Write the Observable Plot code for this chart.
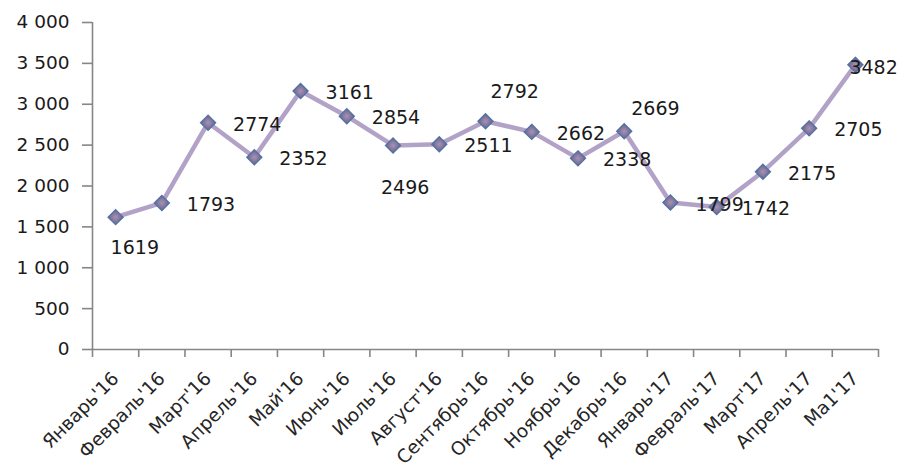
<!DOCTYPE html>
<html>
<head>
<meta charset="utf-8">
<script src="https://cdn.jsdelivr.net/npm/d3@7"></script>
<script src="https://cdn.jsdelivr.net/npm/@observablehq/plot@0.6"></script>
<style>
  html, body { margin: 0; padding: 0; background: #fff; }
  #chart { width: 900px; height: 469px; }
</style>
</head>
<body>
<div id="chart"></div>
<script>
// ---- data ----
const months = ["Январь'16","Февраль'16","Март'16","Апрель'16","Май'16","Июнь'16","Июль'16","Август'16","Сентябрь'16","Октябрь'16","Ноябрь'16","Декабрь'16","Январь'17","Февраль'17","Март'17","Апрель'17","Ма1'17"];
const values = [1619, 1793, 2774, 2352, 3161, 2854, 2496, 2511, 2792, 2662, 2338, 2669, 1799, 1742, 2175, 2705, 3482];
const labelPlacement = ["below","right","right","right","right","right","farBelow","right","top","right","right","topNear","right","right","right","right","on"];
const yTicks = [0, 500, 1000, 1500, 2000, 2500, 3000, 3500, 4000];

// ---- table ----
const data = months.map((m, i) => ({month: m, idx: i, pos: i + 0.5, value: values[i], place: labelPlacement[i]}));

const placeOffsets = {
  right:    {dx: 25, dy: 2},
  below:    {dx: -5, dy: 31},
  farBelow: {dx: -12, dy: 42},
  top:      {dx: 5, dy: -29},
  topNear:  {dx: 7, dy: -22},
  on:       {dx: -6, dy: 3}
};

const font = "Verdana, 'DejaVu Sans', sans-serif";
const fmt = d => d3.format(",")(d).replace(/,/g, " ");

const labelMarks = Object.entries(placeOffsets).map(([name, o]) =>
  Plot.text(data.filter(d => d.place === name), {
    x: "pos", y: "value", text: d => String(d.value),
    dx: o.dx, dy: o.dy, textAnchor: "start", lineAnchor: "middle",
    fill: "#1a1a1a", fontSize: 19
  })
);

const svg = Plot.plot({
  width: 900,
  height: 469,
  marginLeft: 92,
  marginRight: 22,
  marginTop: 22,
  marginBottom: 120,
  style: {fontFamily: font, background: "#fff", overflow: "visible"},
  x: {type: "linear", domain: [0, months.length], axis: null, label: null},
  y: {domain: [0, 4000], axis: null, label: null},
  marks: [
    // y axis
    Plot.axisY({ticks: yTicks, label: null, tickSize: 10, tickPadding: 13, tickFormat: fmt, stroke: "#868686", strokeWidth: 1.6, fill: "#1a1a1a", fontSize: 18.5}),
    Plot.ruleX([0], {y1: 0, y2: 4000, stroke: "#868686", strokeWidth: 1.6}),
    // x axis
    Plot.ruleY([0], {stroke: "#868686", strokeWidth: 1.6}),
    Plot.axisX({ticks: d3.range(months.length + 1), label: null, tickSize: 8, tickFormat: () => "", stroke: "#868686", strokeWidth: 1.6}),
    Plot.axisX({ticks: data.map(d => d.pos), label: null, tickSize: 0, tickPadding: 26, tickRotate: -45,
      tickFormat: p => months[Math.floor(p)], fill: "#262626", fontSize: 18.5}),
    // series
    Plot.line(data, {x: "pos", y: "value", stroke: "#b3a2c7", strokeWidth: 4.5, strokeLinejoin: "round"}),
    Plot.dot(data, {x: "pos", y: "value", symbol: "diamond2", r: 6.8, fill: "url(#mk)", stroke: "#4f73a6", strokeWidth: 1.3}),
    ...labelMarks
  ]
});

// marker gradient
const ns = "http://www.w3.org/2000/svg";
const defs = document.createElementNS(ns, "defs");
defs.innerHTML = `<radialGradient id="mk" cx="50%" cy="50%" r="60%">
  <stop offset="0%" stop-color="#a493b8"/>
  <stop offset="60%" stop-color="#7b6f93"/>
  <stop offset="100%" stop-color="#4e5a7e"/>
</radialGradient>`;
svg.insertBefore(defs, svg.firstChild);

document.getElementById("chart").appendChild(svg);
</script>
</body>
</html>
